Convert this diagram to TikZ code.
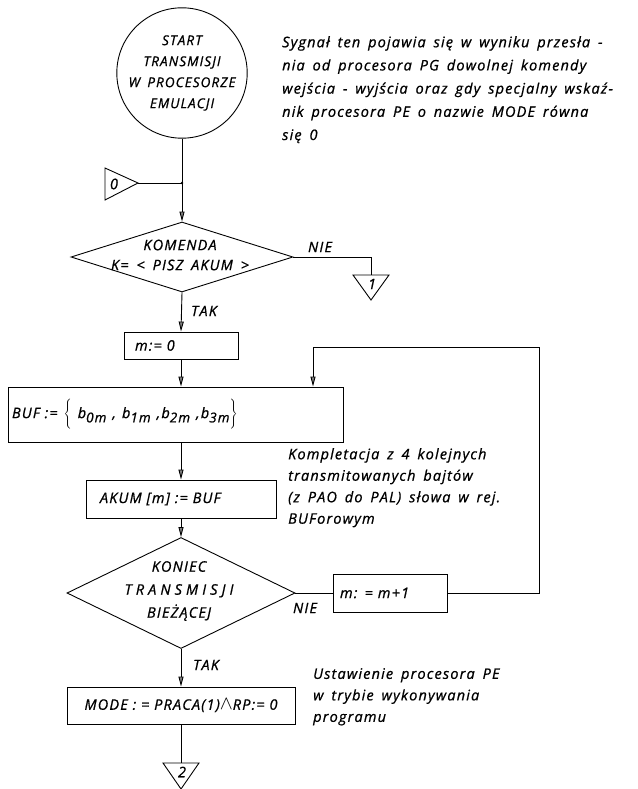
\documentclass[tikz,border=0pt]{standalone}
\usepackage{fontspec}
\usepackage{graphicx}
\setmainfont{Open Sans}[LetterSpace=8,WordSpace=1.6,FakeBold=0.8]
\usetikzlibrary{arrows.meta,shapes.geometric}
% subscript set almost at full size, dropped below the baseline
\newcommand\bsub[2]{#1\raisebox{-0.55ex}{\fontsize{13.5}{13.5}\selectfont #2}}
\newcommand\gap{\hspace{6pt}}
\begin{document}
\begin{tikzpicture}[x=1pt,y=-1pt,
  txt/.style={font=\fontsize{14.5}{#1}\selectfont\itshape},
  txt/.default=16,
  every node/.style={txt},
  wire/.style={line width=0.9pt},
  flow/.style={wire,-{Triangle[length=10pt,width=5pt,fill=black!50]}},
  proc/.style={draw,wire,rectangle,align=left,inner ysep=0pt},
  decision/.style={draw,wire,diamond,inner sep=0pt},
  note/.style={txt=#1,anchor=north west,align=left,inner sep=0pt}]
\useasboundingbox (0,0) rectangle (637,789);

% start terminal
\node[draw,wire,circle,minimum size=130pt,inner sep=0pt,align=center,
  font=\fontsize{13.5}{21}\selectfont\itshape]
  (start) at (182,73) {START\\TRANSMISJI\\W PROCESORZE\\EMULACJI};
\coordinate (j0) at (182,183);
\fill (j0) circle (1.4pt);

% entry connector 0
\draw[wire] (105,168) -- (138,183) -- (105,200) -- cycle;
\coordinate (c0) at (138,183);
\node (c0n) at (114,184) {0};

% first decision
\node[decision,minimum width=222pt,minimum height=70pt] (d1) at (182,257) {};
\node[align=center,txt=20] (d1t) at (180,255) {KOMENDA\\K= < PISZ AKUM >};
\node (nie1) at (320,247) {NIE};
\coordinate (k1) at (371,257);
\draw[wire] (353,275) -- (389,275) -- (371,300) -- cycle;
\coordinate (t1) at (371,275);
\node (t1n) at (372,284) {1};

\node (tak1) at (204,311) {TAK};
\node[proc,minimum width=114pt,minimum height=27pt,text width=92pt,inner xsep=11pt]
  (m0) at (181,345.5) {m:= 0};
\node[proc,minimum width=335pt,minimum height=55pt,text width=327pt,inner xsep=4pt]
  (buf) at (175.5,414.5) {BUF :=\gap$\Bigg\{$\gap\bsub{b}{0m}\gap,\gap\bsub{b}{1m}\gap,\bsub{b}{2m}\gap,\bsub{b}{3m}$\Bigg\}$};
\node[proc,minimum width=190pt,minimum height=38pt,text width=162pt,inner xsep=14pt]
  (akum) at (181,499) {AKUM [m] := BUF};

% loop test
\node[decision,minimum width=228pt,minimum height=111pt] (d2) at (181,593) {};
\node[align=center,txt=23] (d2t) at (179,591)
  {KONIEC\\{\addfontfeatures{LetterSpace=28}TRANSMISJI}\\BIEŻĄCEJ};
\node[proc,minimum width=114pt,minimum height=38pt,text width=100pt,inner xsep=7pt]
  (m1) at (390,593) {m: = m+1};
\node (nie2) at (305,608) {NIE};
\coordinate (lr) at (539,347);
\coordinate (ll) at (313,347);

\node (tak2) at (206,665) {TAK};
\node[proc,align=center,minimum width=228pt,minimum height=37pt,text width=224pt,inner xsep=2pt]
  (mode) at (181,705.5) {MODE : = PRACA(1)\scalebox{1.35}{$\wedge$}RP:= 0};
\draw[wire] (163,763) -- (199,763) -- (181,789) -- cycle;
\coordinate (t2) at (181,763);
\node (t2n) at (182,772) {2};

% connectors
\draw[wire] (start.south) -- (j0);
\draw[wire] (c0) -- (j0);
\draw[flow] (j0) -- (d1.north);
\draw[wire] (d1.east) -- (k1) -- (t1);
\draw[flow] (d1.south) -- (m0.north);
\draw[flow] (m0.south) -- (m0.south |- buf.north);
\draw[flow] (buf.south -| akum.north) -- (akum.north);
\draw[flow] (akum.south) -- (d2.north);
\draw[wire] (d2.east) -- (m1.west);
\draw[flow] (m1.east) -| (lr) -- (ll) -- (ll |- buf.north);
\draw[flow] (d2.south) -- (mode.north);
\draw[wire] (mode.south) -- (t2);

% comments beside the chart
\node[note=23.2] (n1) at (282,36) {Sygnał ten pojawia się w wyniku przesła -\\
  nia od procesora PG dowolnej komendy\\
  wejścia - wyjścia oraz gdy specjalny wskaź-\\
  nik procesora PE o nazwie MODE równa\\
  się 0};
\node[note=21.5] (n2) at (288,448) {Kompletacja z 4 kolejnych\\
  transmitowanych bajtów\\
  (z PAO do PAL) słowa w rej.\\
  BUForowym};
\node[note=21.5] (n3) at (313,668) {Ustawienie procesora PE\\
  w trybie wykonywania\\
  programu};
\end{tikzpicture}
\end{document}
